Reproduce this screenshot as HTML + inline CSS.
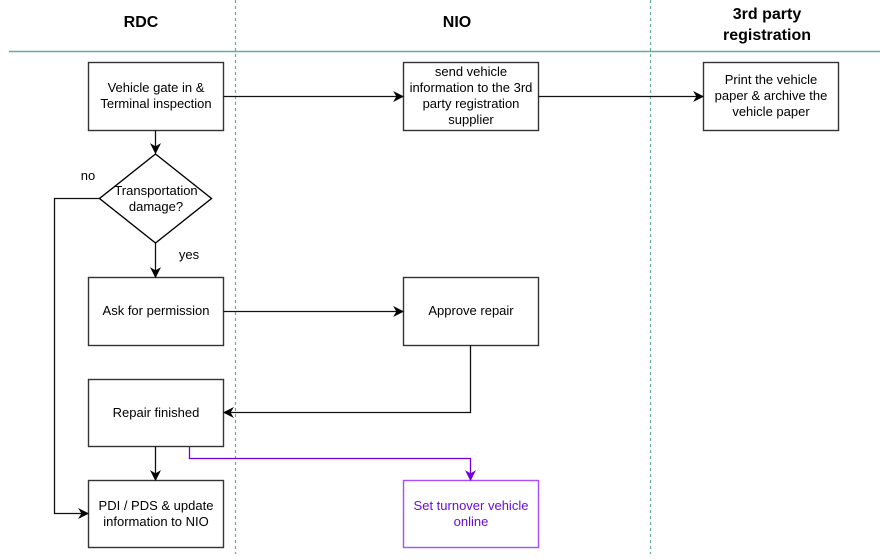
<!DOCTYPE html>
<html><head><style>
body{margin:0;background:#fff;}
svg text{font-family:"Liberation Sans",Arial,sans-serif;}
</style></head><body>
<svg width="880" height="554" viewBox="0 0 880 554" xmlns="http://www.w3.org/2000/svg">
<defs>
<marker id="a" viewBox="0 0 10 10" refX="9" refY="5" markerWidth="11" markerHeight="11" markerUnits="userSpaceOnUse" orient="auto"><path d="M0,0 L10,5 L0,10 L3,5 z" fill="#000"/></marker>
<marker id="p" viewBox="0 0 10 10" refX="9" refY="5" markerWidth="11" markerHeight="11" markerUnits="userSpaceOnUse" orient="auto"><path d="M0,0 L10,5 L0,10 L3,5 z" fill="#7000DD"/></marker>
</defs>
<line x1="9" y1="51.5" x2="880" y2="51.5" stroke="#67AB9F" stroke-width="1.5"/>
<line x1="235.5" y1="0" x2="235.5" y2="554" stroke="#67AB9F" stroke-dasharray="3,3" stroke-width="1.2"/>
<line x1="650.5" y1="0" x2="650.5" y2="554" stroke="#67AB9F" stroke-dasharray="3,3" stroke-width="1.2"/>
<g font-weight="bold" font-size="16" text-anchor="middle" fill="#000">
<text x="141" y="27">RDC</text>
<text x="457" y="27">NIO</text>
<text x="767" y="19">3rd party</text>
<text x="767" y="40">registration</text>
</g>
<g fill="#fff" stroke="#333" stroke-width="1.4">
<rect x="88.5" y="62.5" width="135" height="68"/>
<rect x="403.5" y="62.5" width="135" height="68"/>
<rect x="703.5" y="62.5" width="135" height="68"/>
<polygon points="155.5,154 211.5,198.5 155.5,243 99.5,198.5" stroke="#000"/>
<rect x="88.5" y="277.5" width="135" height="68"/>
<rect x="403.5" y="277.5" width="135" height="68"/>
<rect x="88.5" y="379.5" width="135" height="67"/>
<rect x="88.5" y="480.5" width="135" height="67"/>
<rect x="403.5" y="480.5" width="135" height="67" stroke="#A64DFF"/>
</g>
<g fill="none" stroke="#111" stroke-width="1.3">
<path d="M223.5,96.5 H403" marker-end="url(#a)"/>
<path d="M538.5,96.5 H703" marker-end="url(#a)"/>
<path d="M155.5,130.5 V153" marker-end="url(#a)"/>
<path d="M155.5,243 V277" marker-end="url(#a)"/>
<path d="M223.5,311.5 H403" marker-end="url(#a)"/>
<path d="M470.5,345.5 V412.5 H224" marker-end="url(#a)"/>
<path d="M155.5,446.5 V480" marker-end="url(#a)"/>
<path d="M99.5,198.5 H54.5 V513.5 H88" marker-end="url(#a)"/>
<path d="M189.5,446.5 V458.5 H470.5 V480" stroke="#7000DD" marker-end="url(#p)"/>
</g>
<g font-size="13" text-anchor="middle" fill="#000">
<text x="156" y="92">Vehicle gate in  &amp;</text>
<text x="156" y="108">Terminal inspection</text>
<text x="471" y="76">send vehicle</text>
<text x="471" y="92">information to the 3rd</text>
<text x="471" y="108">party registration</text>
<text x="471" y="124">supplier</text>
<text x="771" y="84">Print the vehicle</text>
<text x="771" y="100">paper &amp; archive the</text>
<text x="771" y="116">vehicle paper</text>
<text x="156" y="195">Transportation</text>
<text x="156" y="211">damage?</text>
<text x="88" y="180">no</text>
<text x="189" y="259">yes</text>
<text x="156" y="315">Ask for permission</text>
<text x="471" y="315">Approve repair</text>
<text x="156" y="417">Repair finished</text>
<text x="156" y="510">PDI / PDS &amp; update</text>
<text x="156" y="526">information to NIO</text>
<text x="471" y="510" fill="#6A0DDD">Set turnover vehicle</text>
<text x="471" y="526" fill="#6A0DDD">online</text>
</g>
</svg>
</body></html>
